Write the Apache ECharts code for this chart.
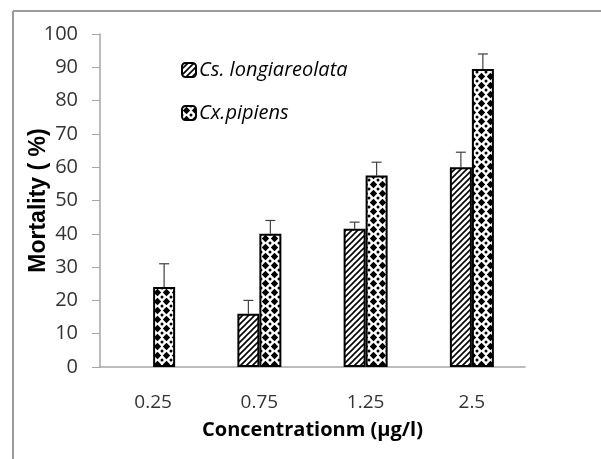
<!DOCTYPE html>
<html>
<head>
<meta charset="utf-8">
<script src="https://cdn.jsdelivr.net/npm/echarts@6/dist/echarts.min.js"></script>
<style>
  html, body { margin: 0; padding: 0; background: #fff; }
  #chart { width: 601px; height: 459px; }
</style>
</head>
<body>
<div id="chart"></div>
<script>
  // data
  var categories = ['0.25', '0.75', '1.25', '2.5'];
  var csValues = [0, 16, 41.5, 60];
  var csErrors = [0, 4, 2, 4.5];
  var cxValues = [24, 40, 57.5, 89.5];
  var cxErrors = [7, 4, 4, 4.5];
  var seriesNames = ['Cs. longiareolata', 'Cx.pipiens'];

  var FONT = 'Open Sans';
  var BAR_W = 22;

  /*  patterns  */
  function stripePattern() {
    var c = document.createElement('canvas');
    c.width = 6; c.height = 6;
    var ctx = c.getContext('2d');
    ctx.fillStyle = '#fff';
    ctx.fillRect(0, 0, 6, 6);
    ctx.strokeStyle = '#000';
    ctx.lineWidth = 1.6;
    ctx.beginPath();
    ctx.moveTo(-1, 7); ctx.lineTo(7, -1);
    ctx.moveTo(-4, 4); ctx.lineTo(4, -4);
    ctx.moveTo(2, 10); ctx.lineTo(10, 2);
    ctx.stroke();
    return c;
  }
  function diamondPattern() {
    var s = 9;
    var c = document.createElement('canvas');
    c.width = s; c.height = s;
    var ctx = c.getContext('2d');
    ctx.fillStyle = '#fff';
    ctx.fillRect(0, 0, s, s);
    ctx.fillStyle = '#000';
    ctx.beginPath();
    ctx.moveTo(4.5, 0.8); ctx.lineTo(8.2, 4.5); ctx.lineTo(4.5, 8.2); ctx.lineTo(0.8, 4.5);
    ctx.closePath();
    ctx.fill();
    // small dots in the corners
    [[0, 0], [s, 0], [0, s], [s, s]].forEach(function (p) {
      ctx.beginPath();
      ctx.arc(p[0], p[1], 1.5, 0, Math.PI * 2);
      ctx.fill();
    });
    return c;
  }
  var stripeFill = { image: stripePattern(), repeat: 'repeat' };
  var diamondFill = { image: diamondPattern(), repeat: 'repeat' };

  // a zero bar is not drawn at all in the original
  function barData(values) {
    return values.map(function (v) { return v === 0 ? '-' : v; });
  }

  /*  error bars, only the upper half  */
  function errorSeries(values, errors, offset) {
    return {
      type: 'custom',
      silent: true,
      z: 1,
      data: values.map(function (v, i) { return [i, v, errors[i]]; }),
      renderItem: function (params, api) {
        var v = api.value(1), e = api.value(2);
        if (!v) return null;
        var base = api.coord([api.value(0), v]);
        var top = api.coord([api.value(0), v + e]);
        var x = base[0] + offset;
        return {
          type: 'group',
          children: [
            { type: 'line', shape: { x1: x, y1: base[1], x2: x, y2: top[1] },
              style: { stroke: '#404040', lineWidth: 1.2 } },
            { type: 'line', shape: { x1: x - 5, y1: top[1], x2: x + 5, y2: top[1] },
              style: { stroke: '#404040', lineWidth: 1.2 } }
          ]
        };
      }
    };
  }

  var chart = echarts.init(document.getElementById('chart'));
  chart.setOption({
    animation: false,
    textStyle: { fontFamily: FONT },
    grid: { left: 100, right: 76, top: 34, bottom: 92 },
    graphic: [
      { type: 'line', shape: { x1: 13, y1: 11, x2: 601, y2: 11 }, style: { stroke: '#9a9a9a', lineWidth: 2 } },
      { type: 'line', shape: { x1: 13, y1: 11, x2: 13, y2: 459 }, style: { stroke: '#9a9a9a', lineWidth: 2 } }
    ],
    legend: {
      orient: 'vertical',
      left: 176,
      top: 55,
      itemGap: 23,
      itemWidth: 14,
      itemHeight: 14,
      data: seriesNames,
      textStyle: { fontFamily: FONT, fontSize: 20, fontStyle: 'italic', color: '#000', padding: [0, 0, 0, -2] }
    },
    xAxis: {
      type: 'category',
      data: categories,
      name: 'Concentrationm (µg/l)',
      nameLocation: 'middle',
      nameGap: 53,
      nameMoveOverlap: false,
      nameTextStyle: { fontFamily: FONT, fontSize: 20, fontWeight: 'bold', color: '#000' },
      axisLine: { lineStyle: { color: '#a6a6a6', width: 1.5 } },
      axisTick: { show: false },
      axisLabel: { margin: 26, fontSize: 19, color: '#333' }
    },
    yAxis: {
      type: 'value',
      min: 0,
      max: 100,
      interval: 10,
      name: 'Mortality ( %)',
      nameLocation: 'middle',
      nameGap: 50,
      nameMoveOverlap: false,
      nameTextStyle: { fontFamily: 'Liberation Sans', fontSize: 23, fontWeight: 'bold', color: '#000' },
      axisLine: { show: true, lineStyle: { color: '#a6a6a6', width: 1.5 } },
      axisTick: { show: true, length: 8, lineStyle: { color: '#a6a6a6' } },
      splitLine: { show: false },
      axisLabel: { margin: 22, fontSize: 20, color: '#333' }
    },
    series: [
      {
        name: seriesNames[0],
        type: 'bar',
        barWidth: BAR_W,
        barGap: '0%',
        data: barData(csValues),
        itemStyle: { color: stripeFill, borderColor: '#000', borderWidth: 2 }
      },
      {
        name: seriesNames[1],
        type: 'bar',
        barWidth: BAR_W,
        barGap: '0%',
        data: barData(cxValues),
        itemStyle: { color: diamondFill, borderColor: '#000', borderWidth: 2 }
      },
      errorSeries(csValues, csErrors, -BAR_W / 2),
      errorSeries(cxValues, cxErrors, BAR_W / 2)
    ]
  });
</script>
</body>
</html>
